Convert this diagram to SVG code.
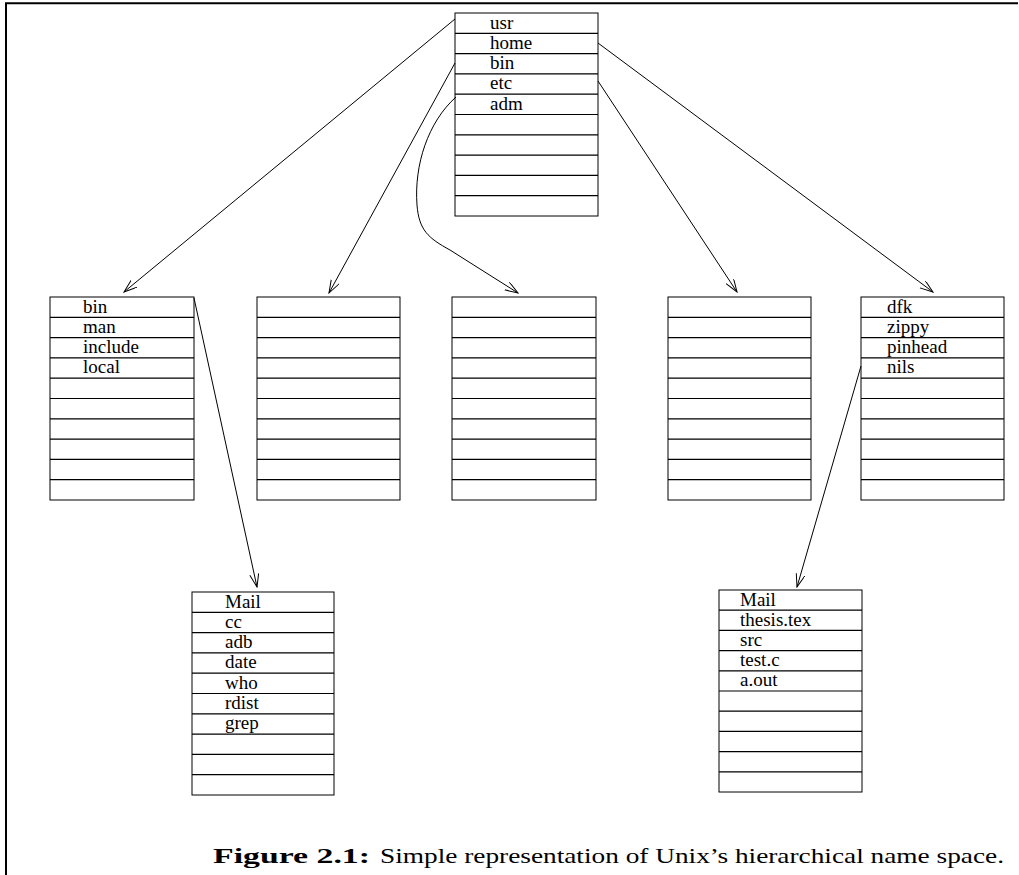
<svg xmlns="http://www.w3.org/2000/svg" width="1019" height="875" viewBox="0 0 1019 875">
  <style>
    .box { fill: #fff; stroke: #000; stroke-width: 1; }
    .rows { fill: none; stroke: #000; stroke-width: 1.2; }
    .lbl { font-family: "Liberation Serif", "Times New Roman", serif; font-size: 19px; fill: #000; }
    .edge { fill: none; stroke: #000; stroke-width: 1; marker-end: url(#arrow); }
    .frame { fill: none; stroke: #000; stroke-width: 2; }
    .cap { font-family: "Liberation Serif", "DejaVu Serif", serif; font-size: 22px; fill: #000; }
  </style>
  <defs>
    <marker id="arrow" markerUnits="userSpaceOnUse" markerWidth="14" markerHeight="10" refX="13" refY="4.5" orient="auto">
      <path d="M0,0 L13,4.5 L0,9" fill="none" stroke="#000" stroke-width="1"/>
    </marker>
  </defs>

  <!-- page frame -->
  <path class="frame" d="M6,875 V3.3 H1018"/>

  <!-- root directory -->
  <g id="root">
    <rect class="box" x="455" y="13" width="143" height="203"/>
    <path class="rows" d="M455,33.3H598M455,53.6H598M455,73.9H598M455,94.2H598M455,114.5H598M455,134.8H598M455,155.1H598M455,175.4H598M455,195.7H598"/>
    <text class="lbl" x="490" y="28.5">usr</text>
    <text class="lbl" x="490" y="48.8">home</text>
    <text class="lbl" x="490" y="69.1">bin</text>
    <text class="lbl" x="490" y="89.4">etc</text>
    <text class="lbl" x="490" y="109.7">adm</text>
  </g>

  <!-- /usr -->
  <g id="usr">
    <rect class="box" x="50" y="297" width="144" height="203"/>
    <path class="rows" d="M50,317.3H194M50,337.6H194M50,357.9H194M50,378.2H194M50,398.5H194M50,418.8H194M50,439.1H194M50,459.4H194M50,479.7H194"/>
    <text class="lbl" x="83" y="312.5">bin</text>
    <text class="lbl" x="83" y="332.8">man</text>
    <text class="lbl" x="83" y="353.1">include</text>
    <text class="lbl" x="83" y="373.4">local</text>
  </g>

  <!-- /bin -->
  <g id="bin">
    <rect class="box" x="257" y="297" width="143" height="203"/>
    <path class="rows" d="M257,317.3H400M257,337.6H400M257,357.9H400M257,378.2H400M257,398.5H400M257,418.8H400M257,439.1H400M257,459.4H400M257,479.7H400"/>
  </g>

  <!-- /adm -->
  <g id="adm">
    <rect class="box" x="452" y="297" width="144" height="203"/>
    <path class="rows" d="M452,317.3H596M452,337.6H596M452,357.9H596M452,378.2H596M452,398.5H596M452,418.8H596M452,439.1H596M452,459.4H596M452,479.7H596"/>
  </g>

  <!-- /etc -->
  <g id="etc">
    <rect class="box" x="668" y="297" width="143" height="203"/>
    <path class="rows" d="M668,317.3H811M668,337.6H811M668,357.9H811M668,378.2H811M668,398.5H811M668,418.8H811M668,439.1H811M668,459.4H811M668,479.7H811"/>
  </g>

  <!-- /home -->
  <g id="home">
    <rect class="box" x="861" y="297" width="143" height="203"/>
    <path class="rows" d="M861,317.3H1004M861,337.6H1004M861,357.9H1004M861,378.2H1004M861,398.5H1004M861,418.8H1004M861,439.1H1004M861,459.4H1004M861,479.7H1004"/>
    <text class="lbl" x="887" y="312.5">dfk</text>
    <text class="lbl" x="887" y="332.8">zippy</text>
    <text class="lbl" x="887" y="353.1">pinhead</text>
    <text class="lbl" x="887" y="373.4">nils</text>
  </g>

  <!-- /usr/bin -->
  <g id="usr-bin">
    <rect class="box" x="192" y="592" width="142" height="203"/>
    <path class="rows" d="M192,612.3H334M192,632.6H334M192,652.9H334M192,673.2H334M192,693.5H334M192,713.8H334M192,734.1H334M192,754.4H334M192,774.7H334"/>
    <text class="lbl" x="225" y="607.5">Mail</text>
    <text class="lbl" x="225" y="627.8">cc</text>
    <text class="lbl" x="225" y="648.1">adb</text>
    <text class="lbl" x="225" y="668.4">date</text>
    <text class="lbl" x="225" y="688.7">who</text>
    <text class="lbl" x="225" y="709">rdist</text>
    <text class="lbl" x="225" y="729.3">grep</text>
  </g>

  <!-- /home/nils -->
  <g id="nils">
    <rect class="box" x="719" y="590" width="143" height="202"/>
    <path class="rows" d="M719,610.2H862M719,630.4H862M719,650.6H862M719,670.8H862M719,691H862M719,711.2H862M719,731.4H862M719,751.6H862M719,771.8H862"/>
    <text class="lbl" x="740" y="605.5">Mail</text>
    <text class="lbl" x="740" y="625.7">thesis.tex</text>
    <text class="lbl" x="740" y="645.9">src</text>
    <text class="lbl" x="740" y="666.1">test.c</text>
    <text class="lbl" x="740" y="686.3">a.out</text>
  </g>

  <!-- directory links -->
  <g id="connectors">
    <path class="edge" d="M455,19 L124,292"/>
    <path class="edge" d="M455,63 L329,293"/>
    <path class="edge" d="M456,97 C428,122 414,165 417,205 C419,230 428,238 450,250 L518,293"/>
    <path class="edge" d="M598,81 L737,292"/>
    <path class="edge" d="M598,43 L933,292"/>
    <path class="edge" d="M194,298 L257,587"/>
    <path class="edge" d="M861,366 L797,587"/>
  </g>

  <!-- caption -->
  <text class="cap" x="213" y="863"><tspan font-weight="bold" textLength="157" lengthAdjust="spacingAndGlyphs">Figure 2.1:</tspan><tspan x="380" textLength="624" lengthAdjust="spacingAndGlyphs">Simple representation of Unix’s hierarchical name space.</tspan></text>
</svg>
